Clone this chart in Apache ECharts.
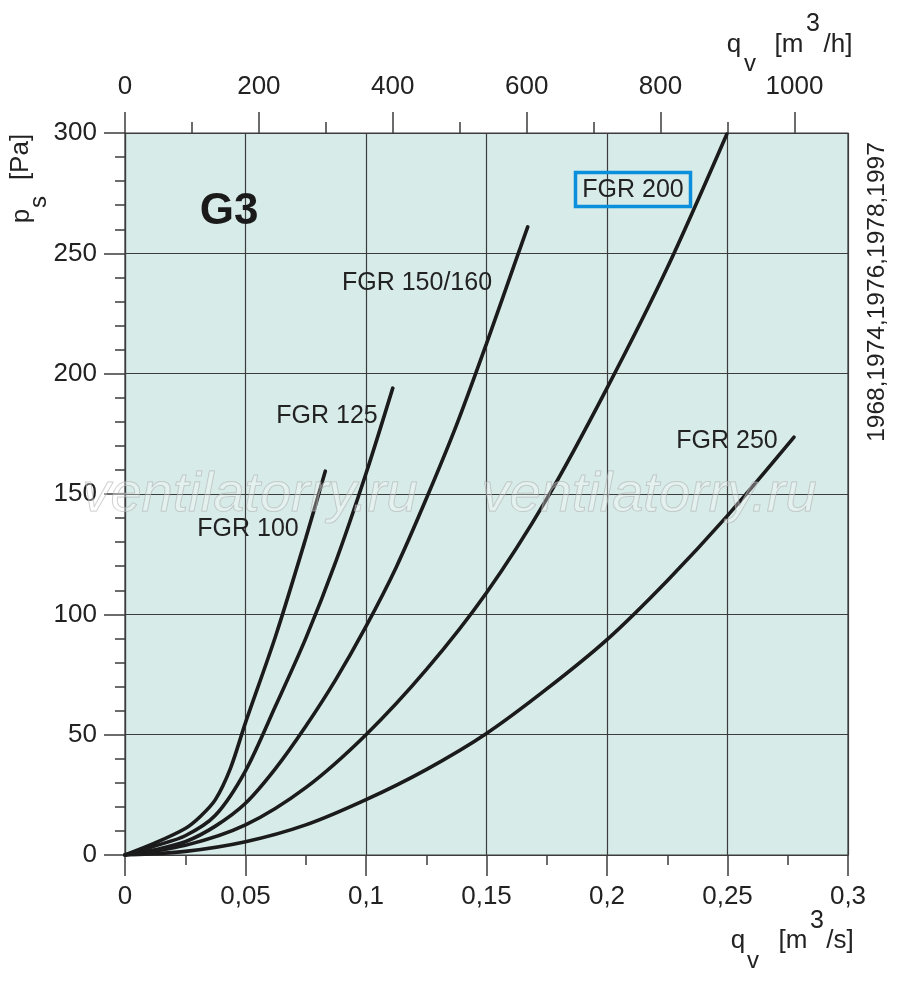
<!DOCTYPE html>
<html>
<head>
<meta charset="utf-8">
<script src="https://cdn.jsdelivr.net/npm/echarts@6/dist/echarts.min.js"></script>
<style>
  html, body { margin: 0; padding: 0; background: #fff; }
  #chart { width: 900px; height: 988px; }
</style>
</head>
<body>
<div id="chart"></div>
<script>
// flow q [m3/s] and static pressure p [Pa]
const fgr100Q = [0, 0.0125, 0.025, 0.03125, 0.0375, 0.04375, 0.05, 0.0625, 0.075, 0.0831];
const fgr100P = [0, 5, 11, 16, 23, 36, 55, 91, 131.6, 159.5];

const fgr125Q = [0, 0.0125, 0.025, 0.0375, 0.05, 0.0625, 0.075, 0.0875, 0.1, 0.1111];
const fgr125P = [0, 3.8, 8, 16.5, 35, 62, 90, 122, 158.5, 194];

const fgr160Q = [0, 0.0125, 0.025, 0.0375, 0.05, 0.0625, 0.075, 0.0875, 0.1, 0.1125, 0.125, 0.1375, 0.15, 0.1625, 0.1671];
const fgr160P = [0, 2.2, 5.5, 12, 21.5, 36, 53.5, 73, 95, 119.5, 148, 178.5, 212.5, 248, 261];

const fgr200Q = [0, 0.025, 0.05, 0.075, 0.1, 0.125, 0.15, 0.175, 0.2, 0.225, 0.2497];
const fgr200P = [0, 4, 12.5, 28, 50, 77, 109, 148, 194, 244, 299.5];

const fgr250Q = [0, 0.025, 0.05, 0.075, 0.1, 0.125, 0.15, 0.175, 0.2, 0.225, 0.25, 0.2776];
const fgr250P = [0, 1.5, 5.5, 12.5, 23, 35.5, 50.5, 69, 89.5, 114, 141, 173.6];

const seriesNames = ['FGR 100', 'FGR 125', 'FGR 150/160', 'FGR 200', 'FGR 250'];
const seriesQ = [fgr100Q, fgr125Q, fgr160Q, fgr200Q, fgr250Q];
const seriesP = [fgr100P, fgr125P, fgr160P, fgr200P, fgr250P];

// top axis in m3/h
const topMajorTicks = [0, 200, 400, 600, 800, 1000];
const topMinorTicks = [100, 300, 500, 700, 900];

const FONT = 'Liberation Sans, Arial, Helvetica, sans-serif';
const INK = '#222';
const GRIDLINE = '#3c3c3c';

const chart = echarts.init(document.getElementById('chart'), null, { renderer: 'canvas' });

function zip(qs, ps) {
  return qs.map((q, i) => [q, ps[i]]);
}

const curveSeries = seriesNames.map((name, i) => ({
  name: name,
  type: 'line',
  xAxisIndex: 0,
  yAxisIndex: 0,
  smooth: 0.3,
  showSymbol: false,
  silent: true,
  data: zip(seriesQ[i], seriesP[i]),
  lineStyle: { color: '#1b1b1b', width: 3.6, cap: 'round' },
  z: 5
}));

function txt(x, y, text, size, extra) {
  return Object.assign({
    type: 'text',
    x: x, y: y,
    z: 20,
    style: Object.assign({
      text: text,
      fontFamily: FONT,
      fontSize: size,
      fill: INK,
      align: 'center',
      verticalAlign: 'middle'
    }, extra && extra.style)
  }, extra && extra.el);
}

const up = { el: { rotation: Math.PI / 2 } };

const graphics = [
  txt(229, 212, 'G3', 44, { style: { fontWeight: 'bold', fill: '#1a1a1a' } }),
  txt(248, 529, 'FGR 100', 25),
  txt(327, 416, 'FGR 125', 25),
  txt(417, 283, 'FGR 150/160', 25),
  txt(633, 190, 'FGR 200', 25),
  txt(727, 441, 'FGR 250', 25),
  {
    type: 'rect', z: 21,
    shape: { x: 575.5, y: 172.5, width: 115, height: 34 },
    style: { fill: 'none', stroke: '#0a8fdc', lineWidth: 3.5 }
  },
  // top axis title q_v [m3/h]
  txt(734, 45, 'q', 26),
  txt(750, 64, 'v', 24),
  txt(789, 45, '[m', 26),
  txt(813, 24, '3', 25),
  txt(838, 45, '/h]', 26),
  // bottom axis title q_v [m3/s]
  txt(738, 941, 'q', 26),
  txt(753, 961, 'v', 24),
  txt(793, 941, '[m', 26),
  txt(817, 921, '3', 25),
  txt(840, 941, '/s]', 26),
  // left axis title p_s [Pa]
  txt(22, 216, 'p', 26, up),
  txt(39, 202, 's', 24, up),
  txt(21, 157, '[Pa]', 26, up),
  // years on the right
  txt(877, 292, '1968,1974,1976,1978,1997', 24.5, up)
];

// faint outlined watermark
['ventilatorry.ru', 'ventilatorry.ru'].forEach((w, i) => {
  graphics.push({
    type: 'text', z: 30, silent: true,
    x: i === 0 ? 250 : 649, y: 495,
    style: {
      text: w, fontFamily: FONT, fontSize: 56, fontStyle: 'italic',
      fill: 'rgba(255,255,255,0.3)', stroke: 'rgba(165,165,165,0.6)', lineWidth: 1,
      align: 'center', verticalAlign: 'middle'
    }
  });
});

const commaLabel = v => String(+v.toFixed(3)).replace('.', ',');

const option = {
  animation: false,
  backgroundColor: '#ffffff',
  grid: {
    left: 125, right: 52, top: 133, bottom: 133,
    show: true,
    backgroundColor: '#d7ebe9',
    borderColor: GRIDLINE,
    borderWidth: 1.2
  },
  xAxis: [
    {
      type: 'value', position: 'bottom',
      min: 0, max: 0.3, interval: 0.05,
      axisLine: { show: true, lineStyle: { color: GRIDLINE, width: 1.2 } },
      axisTick: { show: true, length: 21, lineStyle: { color: GRIDLINE, width: 1.5 } },
      minorTick: { show: true, splitNumber: 2, length: 10, lineStyle: { color: GRIDLINE, width: 1.5 } },
      splitLine: { show: true, lineStyle: { color: GRIDLINE, width: 1.2 } },
      axisLabel: { margin: 29, fontSize: 26, color: INK, fontFamily: FONT, formatter: commaLabel }
    },
    {
      type: 'value', position: 'top',
      min: 0, max: 1080,
      axisLine: { show: true, lineStyle: { color: GRIDLINE, width: 1.2 } },
      axisTick: { show: true, customValues: topMajorTicks, length: 21, lineStyle: { color: GRIDLINE, width: 1.5 } },
      splitLine: { show: false },
      axisLabel: { customValues: topMajorTicks, margin: 33, fontSize: 26, color: INK, fontFamily: FONT, formatter: v => String(v) }
    },
    {
      type: 'value', position: 'top',
      min: 0, max: 1080,
      axisLine: { show: false },
      axisTick: { show: true, customValues: topMinorTicks, length: 11, lineStyle: { color: GRIDLINE, width: 1.5 } },
      splitLine: { show: false },
      axisLabel: { show: false }
    }
  ],
  yAxis: [
    {
      type: 'value', position: 'left',
      min: 0, max: 300, interval: 50,
      axisLine: { show: true, lineStyle: { color: GRIDLINE, width: 1.2 } },
      axisTick: { show: true, length: 21, lineStyle: { color: GRIDLINE, width: 1.5 } },
      minorTick: { show: true, splitNumber: 5, length: 10, lineStyle: { color: GRIDLINE, width: 1.5 } },
      splitLine: { show: true, lineStyle: { color: GRIDLINE, width: 1.2 } },
      axisLabel: { margin: 28, fontSize: 26, color: INK, fontFamily: FONT }
    }
  ],
  series: curveSeries,
  graphic: graphics
};

chart.setOption(option);
</script>
</body>
</html>
